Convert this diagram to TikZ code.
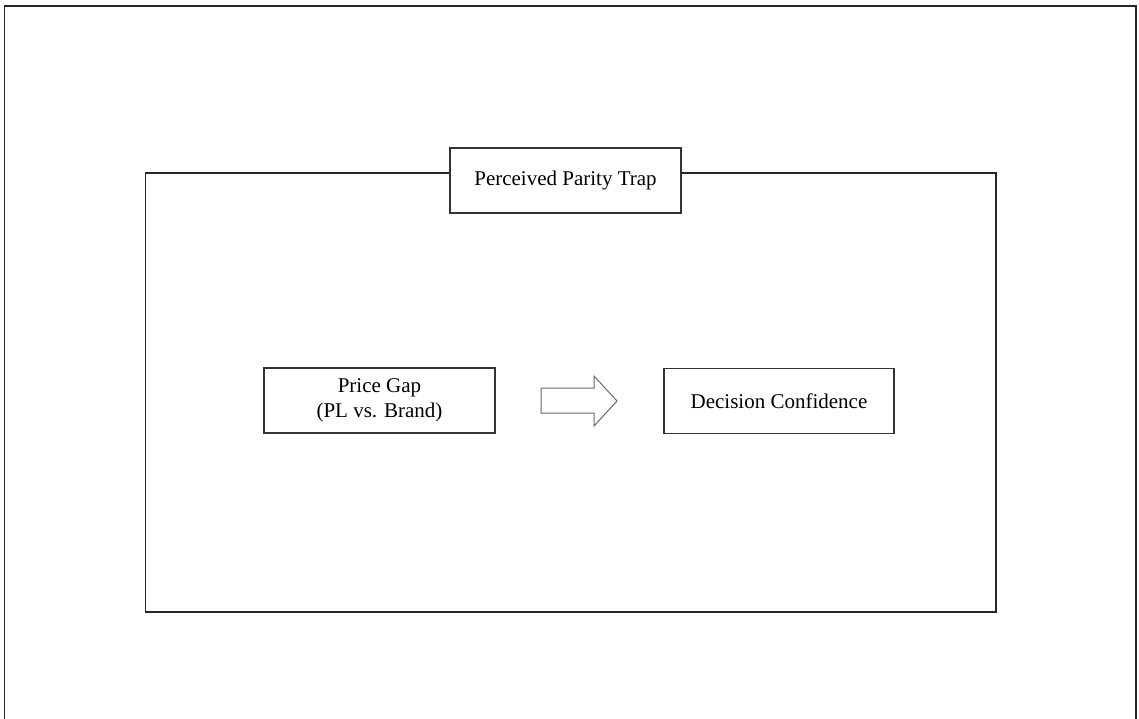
\documentclass[tikz,border=0pt]{standalone}
\usepackage{fontspec}
\setmainfont{Liberation Serif}
\begin{document}
\begin{tikzpicture}[x=1pt,y=-1pt,
  box/.style={draw=black!80,line width=1.2pt,fill=white,minimum width=231pt,minimum height=65pt,inner sep=0pt,align=center,font=\fontsize{21}{25}\selectfont},
  frame/.style={draw=black!85,line width=1.2pt}]
\useasboundingbox (0,0) rectangle (1139,719);
% outer frame (bottom edge lies outside the picture)
\draw[frame] (4.5,719) -- (4.5,6) -- (1136,6) -- (1136,719);
% inner frame
\draw[frame] (145.5,173) rectangle (996,612);
\node[box] (title) at (565.5,180.5) {Perceived Parity Trap};
\node[box] (price) at (379.5,400.5) {Price Gap\\(PL vs. Brand)};
\node[box,minimum width=230pt] (dec) at (779,401) {Decision Confidence};
% block arrow
\draw[draw=black!60,line width=1pt,line join=miter]
  (541,388) -- (594,388) -- (594,376) -- (617,401) -- (594,426) -- (594,413) -- (541,413) -- cycle;
\end{tikzpicture}
\end{document}
